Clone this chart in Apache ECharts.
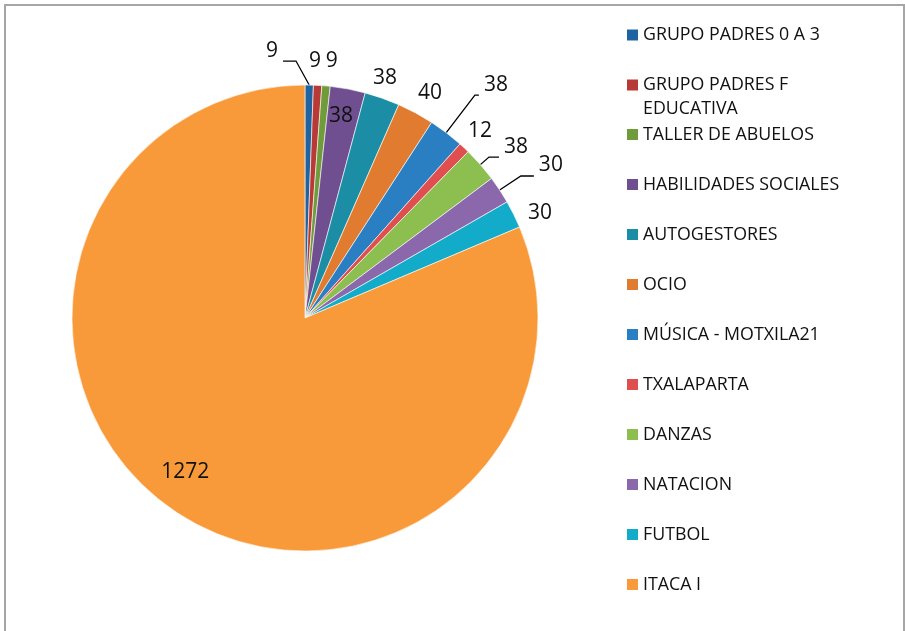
<!DOCTYPE html>
<html>
<head>
<meta charset="utf-8">
<script src="https://cdn.jsdelivr.net/npm/echarts@6/dist/echarts.min.js"></script>
<style>
  html, body { margin: 0; padding: 0; background: #fff; }
  #main { width: 905px; height: 631px; }
</style>
</head>
<body>
<div id="main"></div>
<script>
var categories = [
  "GRUPO PADRES 0 A 3",
  "GRUPO PADRES F EDUCATIVA",
  "TALLER DE ABUELOS",
  "HABILIDADES SOCIALES",
  "AUTOGESTORES",
  "OCIO",
  "MÚSICA - MOTXILA21",
  "TXALAPARTA",
  "DANZAS",
  "NATACION",
  "FUTBOL",
  "ITACA I"
];
var values = [9, 9, 9, 38, 38, 40, 38, 12, 38, 30, 30, 1272];

var colors = [
  "#1f64a0", "#b83a37", "#6f9b3a", "#6f4f8f", "#1b8ea5", "#e07b2f",
  "#2a7fc3", "#df4f4f", "#8dbe50", "#8b68ac", "#12abc9", "#f99a3a"
];

// label placement per slice: [labelLine length, labelLine length2]
var labelGeom = [
  [24, 13], [24.4, -15], [25.1, -7.5], [-27.5, -18.7], [21.4, -21.2], [22.6, -13.2],
  [47.3, 4], [23, -16.8], [11.4, 10], [25.4, 13], [3, 6.7], [-48.3, -11.3]
];
// slices whose label has a leader line
var leaderIdx = [0, 6, 8, 9];

var pieData = categories.map(function (name, i) {
  return {
    name: name,
    value: values[i],
    itemStyle: { color: colors[i] },
    labelLine: {
      show: leaderIdx.indexOf(i) >= 0,
      length: labelGeom[i][0],
      length2: labelGeom[i][1]
    }
  };
});

var legendFont = { fontFamily: "Open Sans", fontSize: 17.8, color: "#111", lineHeight: 24 };

// legend split in two blocks: the second entry wraps onto a second line
function makeLegend(names, top) {
  return {
    orient: "vertical",
    left: 627,
    top: top,
    padding: 0,
    itemGap: 26,
    itemWidth: 11,
    itemHeight: 11,
    icon: "rect",
    selectedMode: false,
    itemStyle: { borderWidth: 0 },
    formatter: function (name) {
      if (name === categories[1]) {
        var cut = name.lastIndexOf(" ");
        return "{a|" + name.slice(0, cut) + "}\n{b|" + name.slice(cut + 1) + "}";
      }
      return name;
    },
    textStyle: Object.assign({
      rich: {
        a: Object.assign({}, legendFont),
        b: Object.assign({}, legendFont, { lineHeight: 0, height: 24, verticalAlign: "top" })
      }
    }, legendFont),
    data: names
  };
}

var chart = echarts.init(document.getElementById("main"));

var option = {
  animation: false,
  graphic: [{
    type: "rect",
    silent: true,
    z: -1,
    shape: { x: 5, y: 5, width: 899, height: 660 },
    style: { fill: "none", stroke: "#a6a6a6", lineWidth: 2 }
  }],
  legend: [
    makeLegend(categories.slice(0, 2), 23),
    makeLegend(categories.slice(2), 122.5)
  ],
  series: [{
    type: "pie",
    center: [305, 318],
    radius: 233,
    startAngle: 90,
    clockwise: true,
    avoidLabelOverlap: false,
    itemStyle: { borderColor: "#fff", borderWidth: 0.6 },
    label: {
      show: true,
      position: "outside",
      formatter: "{c}",
      fontFamily: "Open Sans",
      fontSize: 21,
      color: "#111",
      distanceToLabelLine: 5
    },
    labelLine: { lineStyle: { color: "#000", width: 1.3 } },
    emphasis: { scale: false },
    labelLayout: function (p) {
      if (leaderIdx.indexOf(p.dataIndex) < 0) return {};
      if (p.dataIndex !== 0) return { verticalAlign: "bottom" };
      // first slice: leader goes up and to the left
      var pts = p.labelLinePoints;
      var rise = pts[0][1] - pts[1][1];
      var turnX = pts[0][0] - rise * 0.55;
      var endX = turnX - (pts[2][0] - pts[1][0]);
      return {
        x: endX - 5,
        y: pts[1][1],
        align: "right",
        verticalAlign: "bottom",
        labelLinePoints: [pts[0], [turnX, pts[1][1]], [endX, pts[1][1]]]
      };
    },
    data: pieData
  }]
};

chart.setOption(option);
</script>
</body>
</html>
